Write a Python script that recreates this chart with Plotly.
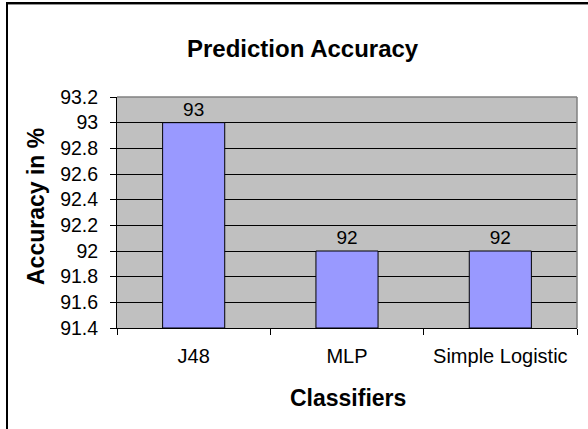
import plotly.graph_objects as go

categories = ["J48", "MLP", "Simple Logistic"]
accuracy = [93, 92, 92]
y_min = 91.4
y_max = 93.2
y_ticks = [91.4, 91.6, 91.8, 92, 92.2, 92.4, 92.6, 92.8, 93, 93.2]
y_tick_text = ["91.4", "91.6", "91.8", "92", "92.2", "92.4", "92.6", "92.8", "93", "93.2"]

FONT = "Liberation Sans, Arial, sans-serif"

fig = go.Figure(
    go.Bar(
        x=categories,
        y=[v - y_min for v in accuracy],
        base=y_min,
        marker=dict(color="#9999FF", line=dict(color="black", width=1)),
        text=[str(v) for v in accuracy],
        textposition="outside",
        textfont=dict(family=FONT, size=19, color="black"),
        cliponaxis=False,
        hovertemplate="%{x}: %{text}<extra></extra>",
    )
)

L, R, T, B = 117, 11, 97, 101
W, H = 588, 429
pw, ph = W - L - R, H - T - B


def px_x(p):
    return (p - L) / pw


def px_y(p):
    return (H - B - p) / ph


fig.update_layout(
    width=W,
    height=H,
    margin=dict(l=L, r=R, t=T, b=B, pad=0),
    paper_bgcolor="white",
    plot_bgcolor="#C0C0C0",
    bargap=0.595,
    showlegend=False,
    font=dict(family=FONT, color="black"),
    xaxis=dict(
        showline=True,
        linecolor="black",
        linewidth=1,
        ticks="outside",
        tickson="boundaries",
        ticklen=6,
        tickcolor="black",
        tickfont=dict(family=FONT, size=20, color="black"),
        ticklabelstandoff=10,
        showgrid=False,
    ),
    yaxis=dict(
        range=[y_min, y_max],
        tickvals=y_ticks,
        ticktext=y_tick_text,
        showline=True,
        linecolor="black",
        linewidth=1,
        ticks="outside",
        ticklen=6,
        tickcolor="black",
        tickfont=dict(family=FONT, size=19.5, color="black"),
        ticklabelstandoff=8,
        showgrid=True,
        gridcolor="black",
        gridwidth=1,
        zeroline=False,
    ),
    annotations=[
        dict(text="<b>Prediction Accuracy</b>", xref="paper", yref="paper",
             x=px_x(303), y=px_y(49), xanchor="center", yanchor="middle",
             showarrow=False, font=dict(family=FONT, size=24, color="black")),
        dict(text="<b>Classifiers</b>", xref="paper", yref="paper",
             x=px_x(347.5), y=px_y(398), xanchor="center", yanchor="middle",
             showarrow=False, font=dict(family=FONT, size=23, color="black")),
        dict(text="<b>Accuracy in %</b>", xref="paper", yref="paper",
             x=px_x(36), y=px_y(207), xanchor="center", yanchor="middle",
             textangle=-90, showarrow=False,
             font=dict(family=FONT, size=23, color="black")),
    ],
    shapes=[
        # grey plot-area border (top and right)
        dict(type="line", xref="paper", yref="paper", x0=0, x1=1, y0=1, y1=1,
             line=dict(color="#808080", width=1.5)),
        dict(type="line", xref="paper", yref="paper", x0=1, x1=1, y0=0, y1=1,
             line=dict(color="#808080", width=1.5)),
        # outer chart frame (left and top visible)
        dict(type="line", xref="paper", yref="paper", x0=px_x(7), x1=px_x(7),
             y0=px_y(2), y1=px_y(440), line=dict(color="black", width=2)),
        dict(type="line", xref="paper", yref="paper", x0=px_x(6), x1=px_x(600),
             y0=px_y(3), y1=px_y(3), line=dict(color="black", width=2)),
        dict(type="line", xref="paper", yref="paper", x0=px_x(8), x1=px_x(600),
             y0=px_y(4.5), y1=px_y(4.5), line=dict(color="#909090", width=1)),
    ],
)

fig.write_html(
    "out.html",
    config={"displayModeBar": False},
    post_script="document.body.style.margin='0';document.body.style.overflow='hidden';",
)
